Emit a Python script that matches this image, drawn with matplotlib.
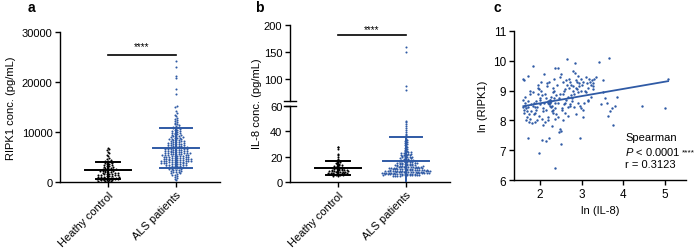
import numpy as np
import matplotlib
matplotlib.use("Agg")
from matplotlib import pyplot as plt

plt.rcParams['font.family'] = ['Liberation Sans', 'DejaVu Sans']
plt.rcParams['font.size'] = 8
plt.rcParams['mathtext.fontset'] = 'custom'
plt.rcParams['mathtext.it'] = 'Liberation Sans:italic'
plt.rcParams['mathtext.rm'] = 'Liberation Sans'

groups = ['Heathy control', 'ALS patients']

# RIPK1 (pg/mL)
ripk1_hc = [120, 150, 200, 250, 310, 350, 380, 430, 480, 540, 560, 600, 650, 700, 720, 780,
            830, 870, 900, 960, 1020, 1050, 1100, 1150, 1180, 1250, 1310, 1350, 1400, 1460,
            1520, 1550, 1600, 1680, 1750, 1800, 1850, 1950, 2000, 2050, 2120, 2200, 2250,
            2300, 2380, 2460, 2550, 2600, 2650, 2750, 2850, 2900, 2950,
            3050, 3150, 3250, 3350, 3450, 3550, 3600, 3750, 3900, 4000, 4100, 4250, 4300, 4400,
            4600, 4850, 5150, 5400, 5800, 6100, 6400, 6600, 6900]
ripk1_als = [450, 700, 900, 1100, 1250, 1400, 1500, 1650, 1750, 1850, 1950,
             2030, 2100, 2180, 2250, 2320, 2400, 2480, 2550, 2620, 2700, 2770, 2850, 2920, 2980,
             3020, 3070, 3120, 3170, 3220, 3270, 3320, 3370, 3420, 3470, 3520, 3570, 3620, 3670,
             3720, 3770, 3820, 3860, 3900, 3940, 3970, 3990,
             4010, 4040, 4080, 4110, 4150, 4180, 4210, 4250, 4280, 4320, 4350, 4380, 4420, 4450,
             4490, 4520, 4560, 4590, 4620, 4660, 4690, 4730, 4760, 4800, 4840, 4880, 4920, 4960,
             5020, 5050, 5090, 5120, 5160, 5200, 5240, 5280, 5320, 5360, 5400, 5440, 5480, 5520,
             5560, 5600, 5640, 5680, 5720, 5760, 5800, 5840, 5880, 5920, 5950, 5980,
             6020, 6070, 6110, 6160, 6200, 6250, 6290, 6340, 6380, 6430, 6470, 6520, 6560, 6610,
             6650, 6700, 6740, 6790, 6830, 6880, 6920, 6970,
             7030, 7080, 7140, 7190, 7250, 7300, 7360, 7410, 7470, 7520, 7580, 7630, 7690, 7740,
             7800, 7860, 7910, 7960,
             8040, 8110, 8180, 8250, 8320, 8390, 8460, 8530, 8600, 8670, 8740, 8810, 8880, 8950,
             9050, 9130, 9220, 9300, 9390, 9470, 9560, 9640, 9730, 9810, 9900,
             10050, 10160, 10270, 10380, 10490, 10600, 10710, 10820, 10930,
             11100, 11250, 11400, 11550, 11700, 11850, 12050, 12250, 12450, 12650, 12850,
             13200, 13500, 13800, 14300, 15000, 15300, 17600, 18600, 20900, 21300, 23100, 24200]

# IL-8 (pg/mL)
il8_hc = [4.5, 5.0, 5.2, 5.3, 5.5, 5.8, 6.0, 6.1, 6.2, 6.4, 6.6, 6.8, 6.9, 7.0, 7.2, 7.4,
          7.5, 7.6, 7.8, 8.0, 8.1, 8.2, 8.4, 8.6, 8.8, 8.9, 9.0, 9.2, 9.4, 9.5, 9.6, 9.8,
          10.0, 10.1, 10.3, 10.6, 10.9, 11.2, 11.5, 11.8, 12.1, 12.4, 12.8, 13.2, 13.6,
          14.0, 14.5, 15.0, 15.5, 16.0, 17.0, 18.0, 19.5, 21.0, 22.5, 26.0, 27.5, 28.0]
il8_als = [4.8, 4.9, 5.0, 5.1, 5.2, 5.3, 5.4, 5.5, 5.6, 5.7, 5.8, 5.85, 5.9, 5.95, 6.0, 6.0,
           6.1, 6.15, 6.2, 6.3, 6.35, 6.4, 6.5, 6.55, 6.6, 6.7, 6.75, 6.8, 6.9, 6.95, 7.0,
           7.1, 7.15, 7.2, 7.3, 7.35, 7.4, 7.5, 7.55, 7.6, 7.7, 7.75, 7.8, 7.85, 7.9, 7.95,
           8.0, 8.1, 8.15, 8.2, 8.3, 8.35, 8.4, 8.5, 8.55, 8.6, 8.7, 8.75, 8.8, 8.9, 8.95,
           9.0, 9.1, 9.15, 9.2, 9.3, 9.35, 9.4, 9.5, 9.6, 9.7, 9.8, 9.9, 9.95,
           10.0, 10.1, 10.2, 10.3, 10.4, 10.5, 10.6, 10.7, 10.8, 10.9, 11.0, 11.1, 11.2, 11.3,
           11.4, 11.5, 11.6, 11.7, 11.8, 11.85, 11.9, 11.95, 12.0, 12.0,
           12.2, 12.3, 12.5, 12.6, 12.8, 12.9, 13.1, 13.2, 13.4, 13.5, 13.7, 13.8, 14.0, 14.1,
           14.2, 14.4, 14.5, 14.6, 14.8, 14.9, 15.0, 15.0,
           15.2, 15.4, 15.6, 15.8, 16.0, 16.2, 16.4, 16.5, 16.6, 16.8, 17.0, 17.3, 17.5, 17.6,
           17.9, 18.2, 18.5, 18.8, 19.1, 19.4, 19.6, 19.8, 20.0, 20.0,
           20.3, 20.6, 21.0, 21.3, 21.5, 21.7, 22.0, 22.4, 22.5, 22.8, 23.2, 23.5, 23.6, 24.0,
           24.4, 24.8, 25.5, 26.2, 27.0, 27.8, 28.5, 29.3, 30.0, 30.8, 31.5, 32.3,
           33.0, 34.0, 35.5, 37.0, 38.0, 39.5, 41.0, 42.5, 44.0, 45.5, 47.0, 48.0,
           80, 87, 150, 160]

# correlation panel: ln(IL-8) vs ln(RIPK1)
ln_il8 = [1.60, 1.62, 1.75, 1.65, 1.58, 1.70, 1.63, 1.72, 1.66, 1.61, 1.68, 1.78, 1.74,
          1.69, 1.77, 1.73, 1.80, 1.70, 1.71, 1.64, 1.79, 1.59, 1.67, 1.76, 1.62,
          1.84, 1.82, 1.86, 1.88, 1.90, 1.92, 1.85, 1.95, 1.97, 1.99, 2.00, 2.02, 2.04, 2.06,
          2.08, 1.83, 1.87, 1.91, 1.94, 1.96, 1.98, 2.01, 2.03, 2.05, 2.07, 2.09, 1.89, 1.93,
          1.97, 2.05,
          2.10, 2.12, 2.14, 2.15, 2.16, 2.18, 2.19, 2.20, 2.21, 2.22, 2.23, 2.24, 2.25, 2.25,
          2.26, 2.27, 2.28, 2.29, 2.30, 2.31, 2.32, 2.33, 2.34, 2.35, 2.36, 2.37, 2.38, 2.39,
          2.12, 2.17, 2.22, 2.27, 2.32, 2.37, 2.14, 2.19, 2.24, 2.29, 2.34, 2.35,
          2.41, 2.43, 2.44, 2.46, 2.48, 2.50, 2.51, 2.52, 2.54, 2.55, 2.56, 2.58, 2.60, 2.61,
          2.62, 2.64, 2.65, 2.66, 2.68, 2.69, 2.42, 2.45, 2.49, 2.53, 2.57, 2.59, 2.63, 2.67,
          2.47, 2.50,
          2.70, 2.72, 2.73, 2.75, 2.76, 2.78, 2.79, 2.80, 2.82, 2.83, 2.84, 2.85, 2.86, 2.88,
          2.90, 2.91, 2.92, 2.94, 2.95, 2.96, 2.98, 2.99, 2.71, 2.77, 2.81, 2.87, 2.93, 2.97,
          2.74, 2.89,
          3.00, 3.02, 3.04, 3.06, 3.08, 3.10, 3.12, 3.14, 3.16, 3.18, 3.20, 3.22, 3.24, 3.26,
          3.28, 3.30, 3.03, 3.09, 3.15, 3.21, 3.27, 3.35,
          3.42, 3.45, 3.50, 3.52, 3.55, 3.60, 3.62, 3.65, 3.68, 3.72, 3.76, 3.80, 3.84, 4.45,
          5.00, 5.06]
ln_ripk1 = [9.40, 9.35, 9.00, 8.80, 8.70, 8.65, 8.50, 8.45, 8.40, 8.35, 8.30, 8.30, 8.20,
            8.10, 8.05, 7.95, 7.90, 7.40, 9.50, 8.60, 8.55, 8.45, 8.00, 8.90, 8.25,
            9.83, 8.95, 8.60, 8.45, 8.35, 8.00, 8.20, 9.10, 6.90, 8.70, 8.55, 9.00, 8.85, 8.40,
            8.30, 8.50, 7.95, 8.65, 8.90, 9.20, 8.15, 8.75, 9.30, 8.05, 7.85, 8.60, 8.25, 8.45,
            9.05, 7.35,
            9.55, 8.90, 8.35, 7.30, 9.25, 8.10, 8.65, 8.60, 9.30, 8.55, 8.70, 8.62, 8.58, 8.68,
            8.45, 8.80, 8.50, 8.30, 8.95, 8.25, 9.10, 8.75, 9.00, 6.40, 8.40, 8.05, 8.85, 8.20,
            7.95, 9.15, 7.40, 8.65, 8.35, 9.75, 8.75, 8.00, 8.50, 7.80, 9.40, 8.60,
            9.20, 9.77, 8.60, 8.75, 7.70, 7.20, 9.55, 8.40, 8.90, 8.00, 9.30, 8.55, 8.25, 9.05,
            8.70, 9.20, 10.05, 8.45, 8.80, 9.40, 8.10, 7.60, 8.90, 8.35, 9.00, 8.60, 9.35, 8.15,
            9.45, 7.65,
            9.10, 9.30, 8.55, 9.20, 8.75, 9.00, 9.65, 9.15, 8.90, 9.60, 9.93, 9.35, 8.20, 9.05,
            8.95, 9.50, 8.60, 9.25, 7.40, 8.50, 9.40, 9.00, 8.50, 8.65, 8.45, 9.10, 9.15, 8.40,
            8.85, 9.30,
            9.20, 8.35, 9.30, 8.60, 9.00, 9.45, 9.25, 8.65, 9.10, 9.40, 9.30, 8.80, 9.35, 9.15,
            9.25, 9.40, 8.10, 8.95, 8.70, 9.20, 9.05, 9.45,
            9.95, 8.55, 9.35, 8.95, 8.75, 8.60, 8.15, 10.10, 8.30, 8.40, 7.85, 8.50, 8.80, 8.50,
            8.40, 9.40]

# linear fit
fit_slope = 0.242
fit_intercept = 8.09
fit_range = [1.6, 5.07]

blue = '#2f5aa5'
colors = ['black', blue]


def swarm(vals, center, bin_h, dx):
    vals = np.asarray(vals, dtype=float)
    rows = np.round(vals / bin_h)
    xs = np.zeros(len(vals))
    for r in np.unique(rows):
        idx = np.where(rows == r)[0]
        n = len(idx)
        xs[idx] = center + (np.arange(n) - (n - 1) / 2) * dx
    return xs


def mean_sd(ax, vals, pos, color, half=0.34, cap=0.2):
    m = np.mean(vals)
    s = np.std(vals, ddof=1)
    ax.plot([pos - half, pos + half], [m, m], color=color, lw=1.4, zorder=4)
    ax.plot([pos, pos], [m - s, m + s], color=color, lw=1.4, zorder=4)
    for yv in (m - s, m + s):
        ax.plot([pos - cap, pos + cap], [yv, yv], color=color, lw=1.4, zorder=4)


def style(ax):
    for sp in ['top', 'right']:
        ax.spines[sp].set_visible(False)
    ax.spines['left'].set_linewidth(1.0)
    ax.spines['bottom'].set_linewidth(1.0)
    ax.tick_params(width=1.0, length=3.5, pad=2)


fig = plt.figure(figsize=(7, 2.53), dpi=100)
W, H = 700, 253

# ---- panel a
ax = fig.add_axes([60 / W, 70 / H, 160 / W, 150 / H])
style(ax)
for i, vals in enumerate([ripk1_hc, ripk1_als]):
    ax.scatter(swarm(vals, i, 400, 0.04), vals, s=2.2, color=colors[i], lw=0, zorder=3)
    mean_sd(ax, vals, i, colors[i], cap=0.18 if i == 0 else 0.24)
ax.plot([0, 1], [25500, 25500], color='black', lw=1.2)
ax.text(0.5, 26100, '****', ha='center', va='bottom', fontsize=7)
ax.set_xlim(-0.706, 1.647)
ax.set_ylim(0, 30000)
ax.set_yticks([0, 10000, 20000, 30000])
ax.set_xticks([0, 1])
ax.set_xticklabels(groups, rotation=45, ha='right', rotation_mode='anchor')
ax.set_ylabel('RIPK1 conc. (pg/mL)', labelpad=4)
fig.text(28 / W, 1 - 8 / H, 'a', fontsize=10, fontweight='bold', va='center')

# ---- panel b (broken axis)
left_b = 290 / W
axl = fig.add_axes([left_b, 70 / H, 160 / W, 76 / H])
axu = fig.add_axes([left_b, (H - 101.6) / H, 160 / W, 75.6 / H])
style(axl)
style(axu)
axu.spines['bottom'].set_visible(False)
axu.tick_params(axis='x', bottom=False, labelbottom=False)
for i, vals in enumerate([il8_hc, il8_als]):
    xs = swarm(vals, i, 1.3, 0.036)
    for a in (axl, axu):
        a.scatter(xs, vals, s=2.2, color=colors[i], lw=0, zorder=3)
        mean_sd(a, vals, i, colors[i], cap=0.18 if i == 0 else 0.24)
axu.plot([0, 1], [181, 181], color='black', lw=1.2)
axu.text(0.5, 183.5, '****', ha='center', va='bottom', fontsize=7)
for a in (axl, axu):
    a.set_xlim(-0.706, 1.647)
axl.set_ylim(0, 60)
axl.set_yticks([0, 20, 40, 60])
axu.set_ylim(60, 200)
axu.set_yticks([100, 150, 200])
axl.set_xticks([0, 1])
axl.set_xticklabels(groups, rotation=45, ha='right', rotation_mode='anchor')
axu.plot([-0.04, 0.04], [0, 0], transform=axu.transAxes, color='black', lw=1.0, clip_on=False)
axl.plot([-0.04, 0.04], [1, 1], transform=axl.transAxes, color='black', lw=1.0, clip_on=False)
fig.text(257 / W, 1 - 104 / H, 'IL-8 conc. (pg/mL)', rotation=90, ha='center', va='center')
fig.text(255 / W, 1 - 8 / H, 'b', fontsize=10, fontweight='bold', va='center')

# ---- panel c
axc = fig.add_axes([514 / W, 72 / H, 172 / W, 149 / H])
style(axc)
axc.scatter(ln_il8, ln_ripk1, s=3, color=blue, lw=0, zorder=3)
fx = np.array(fit_range)
axc.plot(fx, fit_intercept + fit_slope * fx, color=blue, lw=1.3, zorder=4)
axc.set_xlim(1.375, 5.5)
axc.set_ylim(6, 11)
axc.set_xticks([2, 3, 4, 5])
axc.set_yticks([6, 7, 8, 9, 10, 11])
axc.tick_params(labelsize=8.5)
axc.set_xlabel('ln (IL-8)', labelpad=4)
axc.set_ylabel('ln (RIPK1)', labelpad=4)
axc.text(4.04, 7.44, 'Spearman', ha='left', va='center')
ptxt = axc.text(4.04, 6.98, '$P$ < 0.0001', ha='left', va='center')
axc.annotate('****', xy=(1, 1), xycoords=ptxt, xytext=(0.8, -2.5),
             textcoords='offset points', ha='left', va='top', fontsize=6)
axc.text(4.04, 6.54, 'r = 0.3123', ha='left', va='center')
fig.text(493 / W, 1 - 8 / H, 'c', fontsize=10, fontweight='bold', va='center')

fig.savefig('out.png', dpi=100)
